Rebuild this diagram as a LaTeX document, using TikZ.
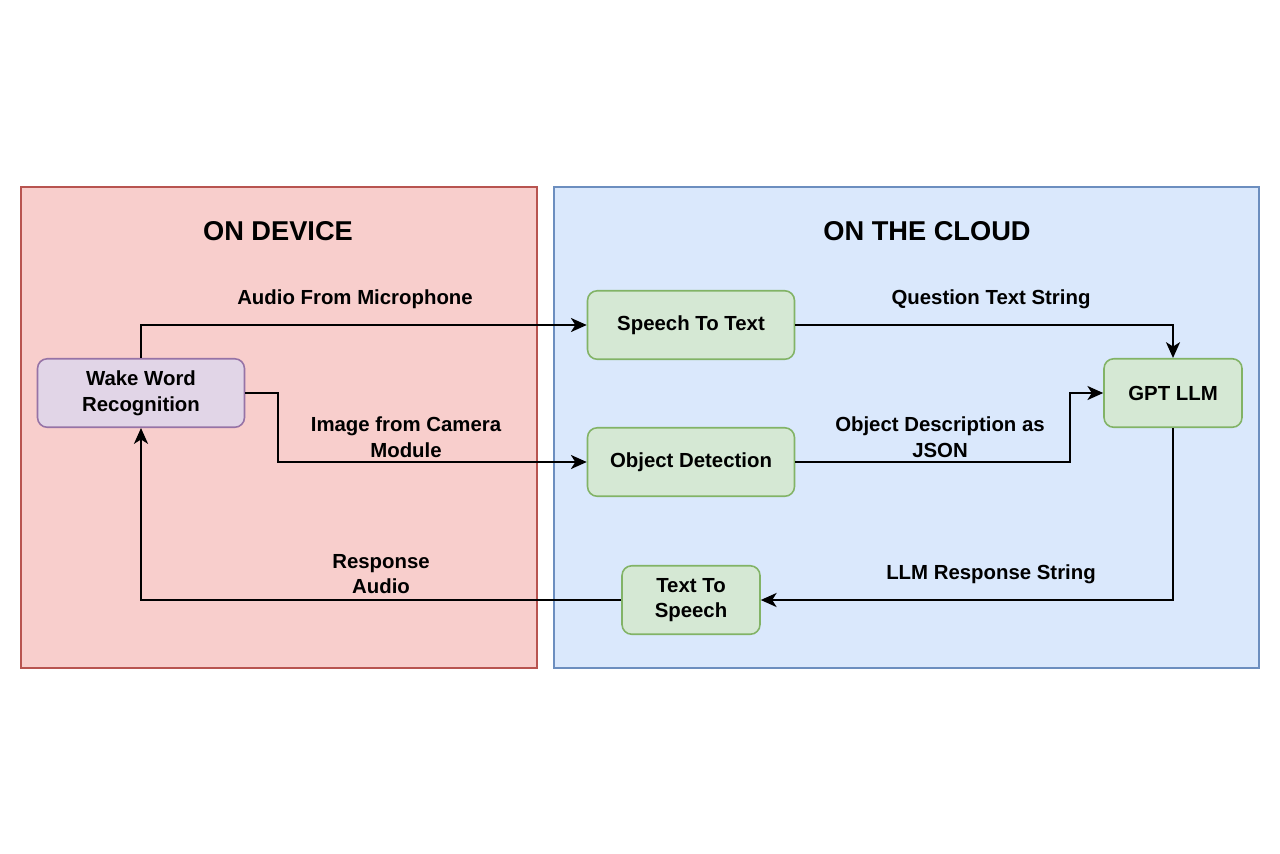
\documentclass[tikz,border=0pt]{standalone}
\usepackage{fontspec}
\setmainfont{Liberation Sans}
\usepackage{xcolor}
\usetikzlibrary{arrows.meta}
\definecolor{redfill}{HTML}{F8CECC}
\definecolor{redline}{HTML}{B85450}
\definecolor{bluefill}{HTML}{DAE8FC}
\definecolor{blueline}{HTML}{6C8EBF}
\definecolor{greenfill}{HTML}{D5E8D4}
\definecolor{greenline}{HTML}{82B366}
\definecolor{purplefill}{HTML}{E1D5E7}
\definecolor{purpleline}{HTML}{9673A6}
\tikzset{
  panel/.style={draw, line width=0.9pt, inner sep=0pt},
  title/.style={font=\fontsize{15.5}{18}\selectfont\bfseries},
  box/.style={draw=greenline, fill=greenfill, line width=0.9pt, rounded corners=5.5pt,
    minimum width=4.14cm, minimum height=1.37cm, align=center, inner sep=0pt,
    font=\fontsize{11.6}{14.6}\selectfont\bfseries},
  lbl/.style={align=center, font=\fontsize{11.6}{14.6}\selectfont\bfseries},
  arr/.style={draw=black, line width=1.1pt, -{Stealth[length=9pt,width=8pt,inset=2.5pt]}}
}
\begin{document}
\begin{tikzpicture}[x=0.02cm,y=-0.02cm]
\useasboundingbox[fill=white] (0,0) rectangle (1280,853);
\node[panel, draw=redline, fill=redfill, minimum width=10.32cm, minimum height=9.62cm] (device) at (279,427.5) {};
\node[panel, draw=blueline, fill=bluefill, minimum width=14.1cm, minimum height=9.62cm] (cloud) at (906.5,427.5) {};
\node[title] (devtitle) at (278,231) {ON DEVICE};
\node[title] (cloudtitle) at (927,231) {ON THE CLOUD};

\node[box, draw=purpleline, fill=purplefill] (wake) at (141,393) {Wake Word\\Recognition};
\node[box] (stt) at (691,325) {Speech To Text};
\node[box] (obj) at (691,462) {Object Detection};
\node[box, minimum width=2.76cm] (gpt) at (1173,393) {GPT LLM};
\node[box, minimum width=2.76cm] (tts) at (691,600) {Text To\\Speech};

\draw[arr] (wake.north) |- (stt.west);
\draw[arr] (wake.east) -- ++(33,0) |- (obj.west);
\draw[arr] (stt.east) -| (gpt.north);
\draw[arr] (obj.east) -- ++(275,0) |- (gpt.west);
\draw[arr] (gpt.south) |- (tts.east);
\draw[arr] (tts.west) -| (wake.south);

\node[lbl] (audiolbl) at (355,299) {Audio From Microphone};
\node[lbl] (imagelbl) at (406,437) {Image from Camera\\Module};
\node[lbl] (questionlbl) at (991,299) {Question Text String};
\node[lbl] (objlbl) at (940,437) {Object Description as\\JSON};
\node[lbl] (llmlbl) at (991,574) {LLM Response String};
\node[lbl] (resplbl) at (381,574) {Response\\Audio};
\end{tikzpicture}
\end{document}
